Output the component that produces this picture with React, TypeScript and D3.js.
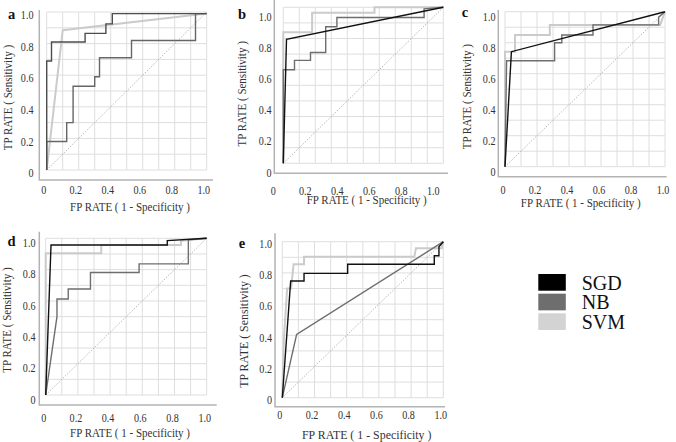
import React from 'react';
import * as d3 from 'd3';

type Pt = [number, number];

// ROC points (FP rate, TP rate)
const aSGD: Pt[] = [[0, 0], [0, 0.69], [0.03, 0.69], [0.03, 0.81], [0.24, 0.81], [0.24, 0.865], [0.37, 0.865], [0.37, 0.925], [0.41, 0.925], [0.41, 0.99], [1, 0.99]];
const aNB: Pt[] = [[0, 0], [0, 0.18], [0.125, 0.18], [0.125, 0.3], [0.165, 0.3], [0.165, 0.53], [0.3, 0.53], [0.3, 0.59], [0.33, 0.59], [0.33, 0.71], [0.53, 0.71], [0.53, 0.82], [0.93, 0.82], [0.93, 0.99], [1, 0.99]];
const aSVM: Pt[] = [[0, 0], [0.1, 0.885], [1, 0.99]];

const bSGD: Pt[] = [[0, 0], [0.02, 0.795], [1, 1]];
const bNB: Pt[] = [[0, 0], [0, 0.6], [0.07, 0.6], [0.07, 0.66], [0.17, 0.66], [0.17, 0.71], [0.265, 0.71], [0.265, 0.875], [0.335, 0.875], [0.335, 0.935], [0.88, 0.935], [0.88, 0.99], [1, 1]];
const bSVM: Pt[] = [[0, 0], [0, 0.84], [0.18, 0.84], [0.18, 0.965], [0.57, 0.965], [0.57, 1], [1, 1]];

const cSGD: Pt[] = [[0, 0], [0.04, 0.742], [1, 1]];
const cNB: Pt[] = [[0, 0], [0.01, 0.684], [0.31, 0.684], [0.31, 0.8], [0.355, 0.8], [0.355, 0.85], [0.55, 0.85], [0.55, 0.915], [0.96, 0.915], [0.96, 0.965], [1, 1]];
const cSVM: Pt[] = [[0, 0], [0, 0.742], [0.0625, 0.742], [0.0625, 0.85], [0.28, 0.85], [0.28, 0.915], [0.97, 0.915], [1, 1]];

const dSGD: Pt[] = [[0, 0], [0.033, 0.957], [0.755, 0.957], [0.755, 0.985], [1, 1]];
const dNB: Pt[] = [[0, 0], [0.07, 0.5], [0.07, 0.613], [0.14, 0.613], [0.14, 0.676], [0.278, 0.676], [0.278, 0.782], [0.58, 0.782], [0.58, 0.837], [0.886, 0.837], [0.886, 0.99], [1, 1]];
const dSVM: Pt[] = [[0, 0], [0, 0.905], [0.345, 0.905], [0.345, 0.957], [0.84, 0.957], [0.84, 0.985], [1, 1]];

const eSGD: Pt[] = [[0, 0], [0.052, 0.748], [0.135, 0.748], [0.135, 0.797], [0.406, 0.797], [0.406, 0.855], [0.944, 0.855], [0.944, 0.91], [0.973, 0.91], [0.973, 0.968], [1, 1]];
const eNB: Pt[] = [[0, 0], [0.089, 0.406], [1, 1]];
const eSVM: Pt[] = [[0, 0], [0.01, 0.38], [0.03, 0.7], [0.055, 0.7], [0.07, 0.855], [0.135, 0.855], [0.135, 0.904], [0.82, 0.904], [0.83, 0.958], [0.99, 0.958], [1, 1]];

const tickValues = [0, 0.2, 0.4, 0.6, 0.8, 1.0];
const tickLabels = ['0', '0.2', '0.4', '0.6', '0.8', '1.0'];
const models = ['SGD', 'NB', 'SVM'];
const xTitle = 'FP RATE ( 1 - Specificity )';
const yTitle = 'TP RATE ( Sensitivity )';

const COLORS: Record<string, string> = { SGD: '#111111', NB: '#6e6e6e', SVM: '#cbcbcb' };
const LEGEND_COLORS: Record<string, string> = { SGD: '#000000', NB: '#6e6e6e', SVM: '#d3d3d3' };
const WIDTHS: Record<string, number> = { SGD: 1.4, NB: 1.4, SVM: 2 };
const FONT = "'Liberation Serif', 'Times New Roman', serif";
const SX = 0.88; // text in the source is slightly condensed

interface Panel {
    key: string;
    series: Record<string, Pt[]>;
    box: { x0: number; x1: number; y0: number; y1: number };
    axis: { x: number; top: number; bottom: number; right: number };
    letter: [number, number];
    yTickEnd: number;
    yTickDy: number;
    xTickY: number;
    xTickDx: number;
    xTitlePos: [number, number];
    yTitlePos: [number, number];
    titleSize: number;
    colors?: Record<string, string>;
}

const panels: Panel[] = [
    {
        key: 'a', series: { SGD: aSGD, NB: aNB, SVM: aSVM },
        box: { x0: 46.7, x1: 206.7, y0: 170, y1: 12 },
        axis: { x: 39.3, top: 10, bottom: 180, right: 213 },
        letter: [11.7, 18.5], yTickEnd: 33.5, yTickDy: 3, xTickY: 193.5, xTickDx: -3,
        xTitlePos: [130, 210.5], yTitlePos: [12.3, 97.5], titleSize: 12.5,
        colors: { SGD: '#4d4d4d', NB: '#666666' },
    },
    {
        key: 'b', series: { SGD: bSGD, NB: bNB, SVM: bSVM },
        box: { x0: 283.3, x1: 443.3, y0: 163.3, y1: 7.3 },
        axis: { x: 274.3, top: 0, bottom: 173.3, right: 448 },
        letter: [242, 19.3], yTickEnd: 271.5, yTickDy: 9, xTickY: 194.5, xTickDx: -10,
        xTitlePos: [366.7, 204], yTitlePos: [245.7, 93.8], titleSize: 12.5,
    },
    {
        key: 'c', series: { SGD: cSGD, NB: cNB, SVM: cSVM },
        box: { x0: 505, x1: 665, y0: 166.7, y1: 11.7 },
        axis: { x: 498.3, top: 10, bottom: 176.7, right: 666.7 },
        letter: [465, 17], yTickEnd: 495.5, yTickDy: 5, xTickY: 194, xTickDx: -2,
        xTitlePos: [580.8, 207.3], yTitlePos: [470.7, 96.7], titleSize: 12.5,
    },
    {
        key: 'd', series: { SGD: dSGD, NB: dNB, SVM: dSVM },
        box: { x0: 45.7, x1: 206.7, y0: 395, y1: 238.3 },
        axis: { x: 39.3, top: 231.7, bottom: 405, right: 216.7 },
        letter: [11.5, 245.7], yTickEnd: 35.5, yTickDy: 4.5, xTickY: 422, xTickDx: -2,
        xTitlePos: [130, 436.7], yTitlePos: [10.7, 320], titleSize: 12.5,
    },
    {
        key: 'e', series: { SGD: eSGD, NB: eNB, SVM: eSVM },
        box: { x0: 282.3, x1: 443.3, y0: 397.7, y1: 241.7 },
        axis: { x: 275, top: 233.3, bottom: 406.7, right: 445 },
        letter: [242, 248.3], yTickEnd: 272, yTickDy: 2, xTickY: 419, xTickDx: -2.5,
        xTitlePos: [366.7, 439], yTitlePos: [248.3, 331], titleSize: 13.5,
    },
];

function Txt({ x, y, size, children, anchor = 'middle', rotate = 0, sx = SX, weight = 'normal', fill = '#333', baseline }: any) {
    return (
        <text
            transform={`translate(${x},${y}) rotate(${rotate}) scale(${sx},1)`}
            fontSize={size}
            fontFamily={FONT}
            textAnchor={anchor}
            fontWeight={weight}
            fill={fill}
            dominantBaseline={baseline}
        >
            {children}
        </text>
    );
}

function RocPanel({ p }: { p: Panel }) {
    const x = d3.scaleLinear().domain([0, 1]).range([p.box.x0, p.box.x1]);
    const y = d3.scaleLinear().domain([0, 1]).range([p.box.y0, p.box.y1]);
    const line = d3.line<Pt>().x((d) => x(d[0])).y((d) => y(d[1]));
    const grid = d3.range(0, 11).map((i) => i / 10);
    const drawOrder = ['SVM', 'NB', 'SGD'];

    return (
        <g>
            {grid.map((g) => (
                <line key={`v${g}`} x1={x(g)} x2={x(g)} y1={y(0)} y2={y(1)} stroke="#dedede" strokeWidth={1} />
            ))}
            {grid.map((g) => (
                <line key={`h${g}`} x1={x(0)} x2={x(1)} y1={y(g)} y2={y(g)} stroke="#dedede" strokeWidth={1} />
            ))}
            <path d={line([[0, 0], [1, 1]]) ?? ''} fill="none" stroke="#9a9a9a" strokeWidth={0.7} strokeDasharray="1.5,1.5" />

            {/* detached L-shaped axis */}
            <path
                d={`M${p.axis.x},${p.axis.top}V${p.axis.bottom}H${p.axis.right}`}
                fill="none"
                stroke="#b3b3b3"
                strokeWidth={1.5}
            />

            {drawOrder.map((m) => (
                <path
                    key={m}
                    d={line(p.series[m]) ?? ''}
                    fill="none"
                    stroke={(p.colors && p.colors[m]) || COLORS[m]}
                    strokeWidth={WIDTHS[m]}
                    strokeLinejoin="miter"
                />
            ))}

            {tickValues.map((v, i) => (
                <Txt key={`yt${v}`} x={p.yTickEnd} y={y(v) + p.yTickDy} size={11.5} anchor="end" baseline="central">
                    {tickLabels[i]}
                </Txt>
            ))}
            {tickValues.map((v, i) => (
                <Txt key={`xt${v}`} x={x(v) + p.xTickDx} y={p.xTickY} size={11.5}>
                    {tickLabels[i]}
                </Txt>
            ))}

            <Txt x={p.xTitlePos[0]} y={p.xTitlePos[1]} size={p.titleSize}>{xTitle}</Txt>
            <Txt x={p.yTitlePos[0]} y={p.yTitlePos[1]} size={p.titleSize} rotate={-90}>{yTitle}</Txt>
            <Txt x={p.letter[0]} y={p.letter[1]} size={14.5} weight="bold" sx={1} fill="#111">{p.key}</Txt>
        </g>
    );
}

export default function App() {
    const legendY = d3.scaleBand().domain(models).range([274, 330]).paddingInner(0.15);

    return (
        <svg
            width={676}
            height={442}
            viewBox="0 0 676 442"
            style={{ position: 'absolute', left: 0, top: 0, background: '#fff', display: 'block' }}
        >
            <rect width={676} height={442} fill="#fff" />
            {panels.map((p) => (
                <RocPanel key={p.key} p={p} />
            ))}
            <g>
                {models.map((m) => (
                    <g key={m}>
                        <rect x={538.3} y={legendY(m)} width={27.5} height={legendY.bandwidth()} fill={LEGEND_COLORS[m]} />
                        <Txt x={581.7} y={(legendY(m) ?? 0) + legendY.bandwidth() - 1} size={20} anchor="start" sx={1} fill="#111">
                            {m}
                        </Txt>
                    </g>
                ))}
            </g>
        </svg>
    );
}
